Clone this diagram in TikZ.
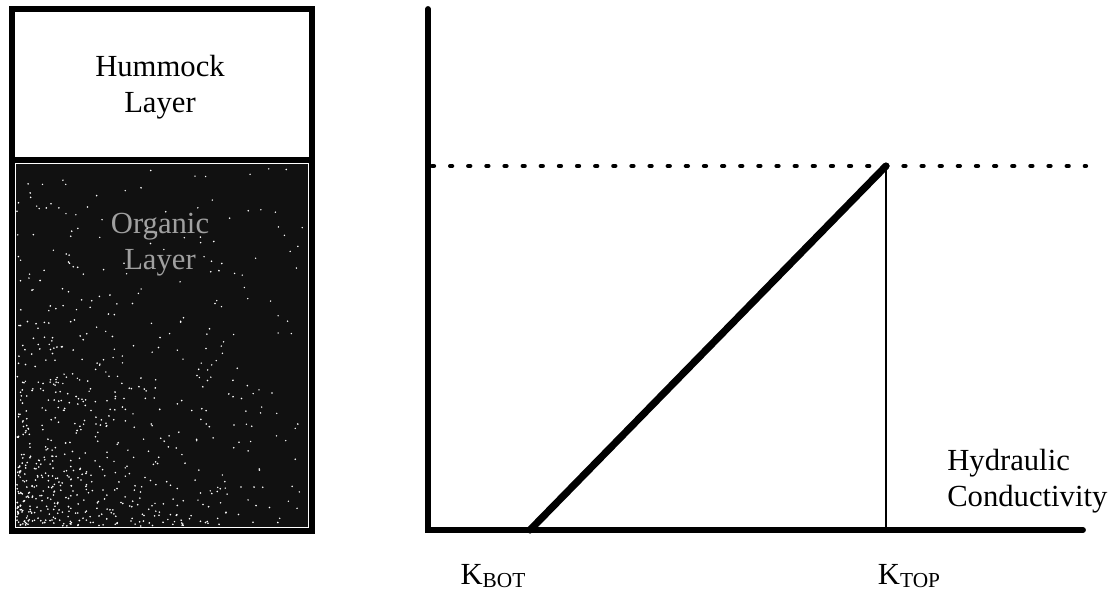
\documentclass[tikz,border=0pt]{standalone}
\usepackage{fontspec}
\setmainfont{Liberation Serif}
\usepackage{tikz}
\usepackage{xcolor}
\usetikzlibrary{positioning,calc}
\definecolor{peatdark}{HTML}{111111}
\definecolor{peattext}{HTML}{A0A0A0}
\tikzset{
  lbl/.style={font=\fontsize{23}{27}\selectfont, align=center, inner sep=0pt},
  axisline/.style={line width=4.4, line cap=round},
  dotline/.style={line width=3.2, line cap=round, dash pattern=on 1.5 off 12.1}
}
\newcommand{\ksub}[1]{{\fontsize{16}{16}\selectfont\raisebox{-2.5pt}{#1}}}
\begin{document}
\begin{tikzpicture}[x=0.75pt,y=-0.75pt]
\useasboundingbox (0,0) rectangle (1118,593);
\fill[peatdark] (16,164) rectangle (308,527);
\pgfmathsetseed{11}
\foreach \i in {1,...,560} {
  \pgfmathsetmacro{\sx}{17+288*rnd*rnd}
  \pgfmathsetmacro{\sy}{526-356*rnd*rnd}
  \fill[white] (\sx,\sy) circle[radius=0.9];
}
\foreach \i in {1,...,160} {
  \pgfmathsetmacro{\sx}{17+287*rnd}
  \pgfmathsetmacro{\sy}{168+356*rnd}
  \fill[white] (\sx,\sy) circle[radius=0.8];
}
\draw[line width=4.5] (12,9) rectangle (312,531);
\draw[line width=4.5] (12,160) -- (312,160);
\node[lbl] (hummock) at (160,87) {Hummock\\Layer};
\node[lbl, text=peattext] (organic) at (160,245) {Organic\\Layer};
\coordinate (origin) at (428,530);
\coordinate (ytop) at (428,9);
\coordinate (xend) at (1083,530);
\coordinate (dotl) at (432,166);
\coordinate (dotr) at (1086,166);
\coordinate (peak) at (886,166);
\coordinate (kbotpt) at (530,530);
\coordinate (ktopfoot) at (886,528);
\draw[axisline] (ytop) -- (origin) -- (xend);
\draw[dotline] (dotl) -- (dotr);
\draw[line width=0.8] (peak) -- (ktopfoot);
\draw[line width=5.4, line cap=round] (kbotpt) -- (peak);
\node[lbl] (kbot) at (493,576) {K\ksub{BOT}};
\node[lbl] (ktop) at (909,576) {K\ksub{TOP}};
\node[lbl, align=left, anchor=west] (hydcond) at (947,481) {Hydraulic\\Conductivity};
\end{tikzpicture}
\end{document}
